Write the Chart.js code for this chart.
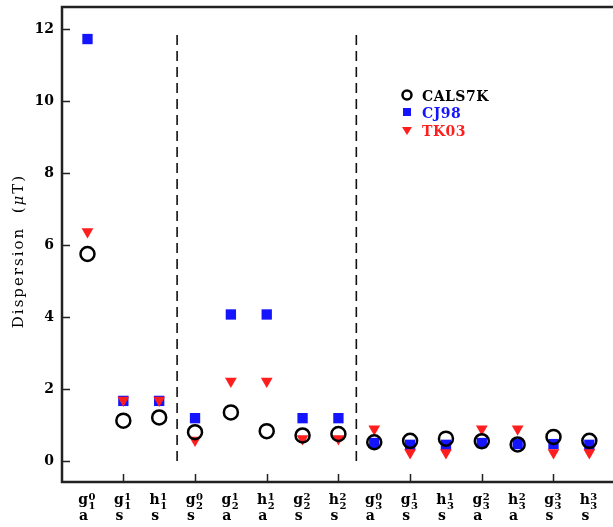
<!DOCTYPE html>
<html>
<head>
<meta charset="utf-8">
<script src="https://cdn.jsdelivr.net/npm/chart.js@4/dist/chart.umd.min.js"></script>
<style>
html, body { margin: 0; padding: 0; background: #fff; }
canvas { display: block; }
</style>
</head>
<body>
<canvas id="myChart" width="613" height="527"></canvas>
<script>
// Gauss coefficients along the x axis
const coeffLetters = ['g', 'g', 'h', 'g', 'g', 'h', 'g', 'h', 'g', 'g', 'h', 'g', 'h', 'g', 'h'];
const coeffDegree = [1, 1, 1, 2, 2, 2, 2, 2, 3, 3, 3, 3, 3, 3, 3];
const coeffOrder = [0, 1, 1, 0, 1, 1, 2, 2, 0, 1, 1, 2, 2, 3, 3];
const coeffKind = ['a', 's', 's', 's', 'a', 'a', 's', 's', 'a', 's', 's', 'a', 'a', 's', 's'];

// dispersion in microtesla
const cals7k = [5.75, 1.12, 1.21, 0.80, 1.35, 0.83, 0.71, 0.75, 0.52, 0.56, 0.62, 0.55, 0.46, 0.67, 0.56];
const cj98 = [11.72, 1.67, 1.67, 1.19, 4.07, 4.07, 1.19, 1.19, 0.50, 0.45, 0.45, 0.50, 0.47, 0.47, 0.45];
const tk03 = [6.37, 1.69, 1.69, 0.58, 2.22, 2.22, 0.62, 0.62, 0.89, 0.23, 0.23, 0.89, 0.89, 0.23, 0.23];

const yTicks = [0, 2, 4, 6, 8, 10, 12];
const xTickAt = [1, 3, 5, 7, 9, 11, 13];
const separators = [2.5, 7.5];

const BLUE = 'rgb(20, 20, 255)';
const RED = 'rgb(255, 30, 30)';
const SERIF = '"DejaVu Serif", serif';

const toPoints = arr => arr.map((v, i) => ({ x: i, y: v }));

const sepSets = separators.map(s => ({
    label: 'sep',
    data: [{ x: s, y: 0 }, { x: s, y: 12 }],
    showLine: true,
    borderColor: '#111',
    borderWidth: 1.6,
    borderDash: [10, 6],
    pointRadius: 0,
    order: 5
}));

const decor = {
    id: 'decor',
    afterDraw(chart) {
        const ctx = chart.ctx;
        const a = chart.chartArea;
        const x = chart.scales.x;
        const y = chart.scales.y;
        ctx.save();

        // frame
        ctx.strokeStyle = '#222';
        ctx.lineWidth = 2.5;
        ctx.beginPath();
        ctx.moveTo(a.right + 3, a.top);
        ctx.lineTo(a.left, a.top);
        ctx.lineTo(a.left, a.bottom);
        ctx.lineTo(a.right + 3, a.bottom);
        ctx.stroke();

        // inward ticks
        ctx.lineWidth = 1.5;
        ctx.beginPath();
        yTicks.forEach(v => {
            const py = Math.round(y.getPixelForValue(v)) + 0.5;
            ctx.moveTo(a.left, py);
            ctx.lineTo(a.left + 8, py);
        });
        xTickAt.forEach(v => {
            const px = Math.round(x.getPixelForValue(v)) + 0.5;
            ctx.moveTo(px, a.bottom);
            ctx.lineTo(px, a.bottom - 8);
        });
        ctx.stroke();

        // x labels: letter with order as superscript and degree as subscript
        ctx.fillStyle = '#000';
        ctx.textBaseline = 'alphabetic';
        coeffLetters.forEach((l, i) => {
            const px = x.getPixelForValue(i);
            ctx.font = 'bold 14px ' + SERIF;
            ctx.textAlign = 'right';
            ctx.fillText(l, px + 0.5, 504);
            ctx.textAlign = 'center';
            ctx.fillText(coeffKind[i], px - 4, 520);
            ctx.font = 'bold 10px ' + SERIF;
            ctx.textAlign = 'left';
            ctx.fillText(String(coeffOrder[i]), px + 1, 500);
            ctx.fillText(String(coeffDegree[i]), px + 1, 508.5);
        });

        // legend
        const lx = 407;
        ctx.lineWidth = 2.5;
        ctx.strokeStyle = '#000';
        ctx.beginPath();
        ctx.arc(lx, 95, 4.5, 0, Math.PI * 2);
        ctx.stroke();
        ctx.fillStyle = BLUE;
        ctx.fillRect(lx - 4, 108, 8, 8);
        ctx.fillStyle = RED;
        ctx.beginPath();
        ctx.moveTo(lx - 5, 127);
        ctx.lineTo(lx + 5, 127);
        ctx.lineTo(lx, 135);
        ctx.closePath();
        ctx.fill();

        ctx.font = 'bold 14px ' + SERIF;
        ctx.letterSpacing = '0.5px';
        ctx.textAlign = 'left';
        ctx.fillStyle = '#000';
        ctx.fillText('CALS7K', 422, 101);
        ctx.fillStyle = BLUE;
        ctx.fillText('CJ98', 422, 118);
        ctx.fillStyle = RED;
        ctx.fillText('TK03', 422, 136);

        // y title
        ctx.translate(22.5, 251);
        ctx.rotate(-Math.PI / 2);
        ctx.fillStyle = '#000';
        const parts = [
            { t: 'Dispersion', f: '15px ' + SERIF },
            { t: '  (', f: '15px ' + SERIF },
            { t: 'μ', f: 'italic 15px ' + SERIF },
            { t: 'T)', f: '15px ' + SERIF }
        ];
        ctx.letterSpacing = '2px';
        let total = 0;
        parts.forEach(p => { ctx.font = p.f; p.w = ctx.measureText(p.t).width; total += p.w; });
        let cx = -total / 2;
        parts.forEach(p => { ctx.font = p.f; ctx.fillText(p.t, cx, 0); cx += p.w; });

        ctx.restore();
    }
};

const ctx = document.getElementById('myChart').getContext('2d');
const myChart = new Chart(ctx, {
    type: 'scatter',
    data: {
        datasets: [
            {
                label: 'CALS7K',
                data: toPoints(cals7k),
                pointStyle: 'circle',
                pointRadius: 7,
                pointBorderWidth: 2.5,
                borderColor: '#000',
                backgroundColor: 'rgba(0,0,0,0)',
                order: 0
            },
            {
                label: 'CJ98',
                data: toPoints(cj98),
                pointStyle: 'rect',
                pointRadius: 7.3,
                pointBorderWidth: 0,
                borderColor: BLUE,
                backgroundColor: BLUE,
                order: 2
            },
            {
                label: 'TK03',
                data: toPoints(tk03),
                pointStyle: 'triangle',
                rotation: 180,
                pointRadius: 6.8,
                pointBorderWidth: 0,
                borderColor: RED,
                backgroundColor: RED,
                order: 1
            },
            ...sepSets
        ]
    },
    options: {
        responsive: false,
        animation: false,
        devicePixelRatio: 1,
        layout: { autoPadding: false, padding: { top: 7, right: 0, bottom: 0, left: 0 } },
        scales: {
            x: {
                type: 'linear',
                min: -0.711,
                max: 14.66,
                grid: { display: false, drawTicks: false },
                border: { display: false },
                ticks: { display: false },
                afterFit: s => { s.height = 45; s.paddingLeft = 0; s.paddingRight = 0; }
            },
            y: {
                min: -0.583,
                max: 12.61,
                afterBuildTicks: s => { s.ticks = yTicks.map(v => ({ value: v })); },
                grid: { display: false, drawTicks: false },
                border: { display: false },
                ticks: {
                    color: '#000',
                    padding: 8,
                    font: { family: 'DejaVu Serif', size: 14, weight: 'bold' }
                },
                afterFit: s => { s.width = 62; s.paddingTop = 0; s.paddingBottom = 0; }
            }
        },
        plugins: {
            legend: { display: false },
            tooltip: { enabled: false }
        }
    },
    plugins: [decor]
});
</script>
</body>
</html>
